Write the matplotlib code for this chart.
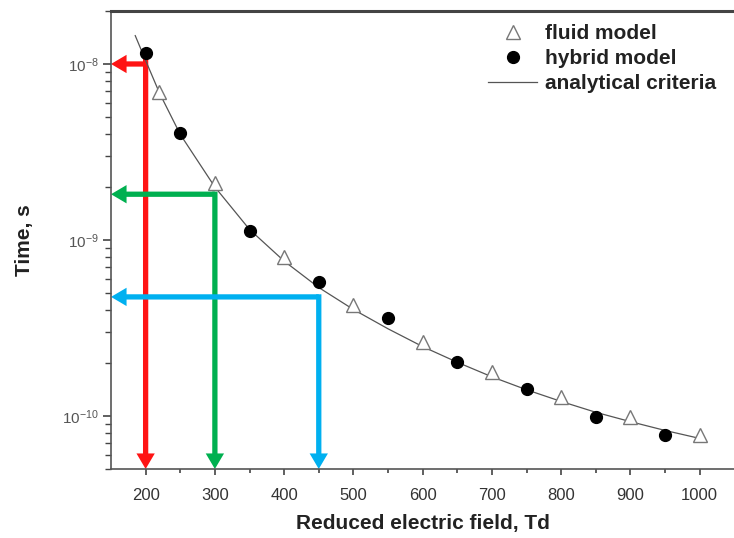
import matplotlib
matplotlib.use("Agg")
import matplotlib.pyplot as plt

plt.rcParams['font.family'] = ['Liberation Sans', 'DejaVu Sans']
plt.rcParams['mathtext.default'] = 'regular'

# values
fluid_x = [220, 300, 400, 500, 600, 700, 800, 900, 1000]
fluid_t = [6.97e-9, 2.1e-9, 8.05e-10, 4.25e-10, 2.63e-10, 1.78e-10, 1.29e-10, 9.9e-11, 7.8e-11]

hybrid_x = [200, 250, 350, 450, 550, 650, 750, 850, 950]
hybrid_t = [1.16e-8, 4.05e-9, 1.13e-9, 5.8e-10, 3.6e-10, 2.02e-10, 1.43e-10, 9.9e-11, 7.8e-11]

curve_x = [185, 200, 220, 250, 300, 350, 400, 450, 500, 550, 600, 650, 700, 750, 800, 850, 900, 950, 1000]
curve_t = [1.449e-8, 1.047e-8, 6.84e-9, 3.98e-9, 2.0e-9, 1.148e-9, 7.59e-10, 5.37e-10, 4.03e-10, 3.13e-10,
           2.48e-10, 2.02e-10, 1.67e-10, 1.41e-10, 1.21e-10, 1.05e-10, 9.29e-11, 8.28e-11, 7.46e-11]

# arrows: field value, time value where the horizontal arrow sits
arrow_field = [200, 300, 450]
arrow_time = [1.0e-8, 1.82e-9, 4.75e-10]
arrow_top = [1.16e-8, 1.82e-9, 4.75e-10]
arrow_colors = ['#ff1414', '#00b050', '#00b0f0']

x_ticks = [200, 300, 400, 500, 600, 700, 800, 900, 1000]
y_ticks = [1e-10, 1e-9, 1e-8]
y_tick_labels = ['$10^{-10}$', '$10^{-9}$', '$10^{-8}$']

xmin, xmax = 150, 1050
ymin, ymax = 5e-11, 2e-8

fig = plt.figure(figsize=(7.34, 5.38), dpi=100)
ax = fig.add_axes([111 / 734, 69 / 538, 623.3 / 734, 458 / 538])
ax.set_yscale('log')
ax.set_xlim(xmin, xmax)
ax.set_ylim(ymin, ymax)


def draw_arrow(x0, y0, x1, y1, color):
    ax.annotate('', xy=(x1, y1), xytext=(x0, y0),
                arrowprops=dict(arrowstyle='simple,head_length=0.56,head_width=0.66,tail_width=0.19',
                                color=color, lw=0, shrinkA=0, shrinkB=0, mutation_scale=20),
                annotation_clip=False, zorder=2)


for fx, t, top, c in zip(arrow_field, arrow_time, arrow_top, arrow_colors):
    draw_arrow(fx, max(top, t * 1.035), fx, ymin, c)
    draw_arrow(fx, t, xmin, t, c)

ax.plot(curve_x, curve_t, '-', color='#555555', lw=0.9, zorder=3, label='analytical criteria')
ax.plot(fluid_x, fluid_t, '^', ms=9.5, mfc='white', mec='#777777', mew=1.0, ls='none',
        zorder=4, label='fluid model')
ax.plot(hybrid_x, hybrid_t, 'o', ms=8.5, color='black', ls='none', zorder=4, label='hybrid model')

handles, labels = ax.get_legend_handles_labels()
order = [1, 2, 0]
leg = ax.legend([handles[i] for i in order], [labels[i] for i in order],
                loc='upper left', bbox_to_anchor=(0.605, 0.972), frameon=False,
                prop={'weight': 'bold', 'size': 15}, handlelength=2.35, handletextpad=0.4,
                labelspacing=0.3, borderpad=0, borderaxespad=0)
for t in leg.get_texts():
    t.set_color('#222222')

ax.set_xticks(x_ticks)
ax.set_xticks([250, 350, 450, 550, 650, 750, 850, 950], minor=True)
ax.set_yticks(y_ticks)
ax.set_yticklabels(y_tick_labels)
ax.tick_params(axis='x', which='major', direction='out', length=4.5, width=1.2, colors='#444444',
               labelsize=12, labelcolor='#333333', pad=9)
ax.tick_params(axis='x', which='minor', direction='out', length=3, width=1.2, colors='#444444')
ax.tick_params(axis='y', which='major', direction='out', length=6, width=1.2, colors='#444444',
               labelsize=11, labelcolor='#555555', pad=3)
ax.tick_params(axis='y', which='minor', direction='out', length=4, width=1.0, colors='#444444',
               labelleft=False)

for side in ['left', 'bottom']:
    ax.spines[side].set_color('#555555')
    ax.spines[side].set_linewidth(1.2)
ax.spines['top'].set_color('#444444')
ax.spines['top'].set_linewidth(2.2)
ax.spines['right'].set_visible(False)

ax.set_xlabel('Reduced electric field, Td', fontsize=15, fontweight='bold', color='#222222', labelpad=8)
ax.set_ylabel('Time, s', fontsize=15, fontweight='bold', color='#222222', labelpad=20)

fig.savefig('out.png', dpi=100)
